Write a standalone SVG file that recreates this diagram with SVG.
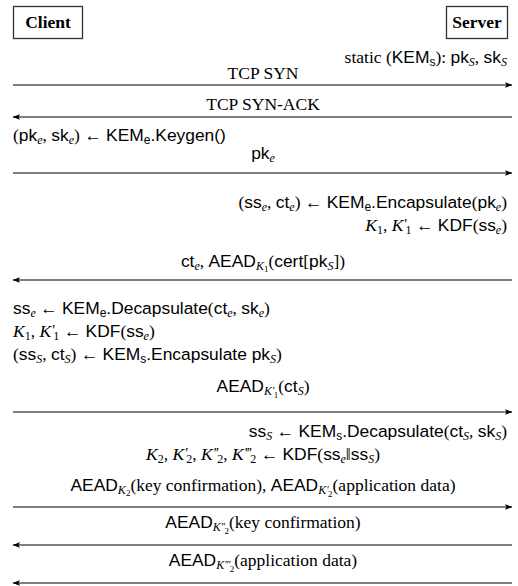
<svg xmlns="http://www.w3.org/2000/svg" width="518" height="586" viewBox="0 0 518 586">
<style>
.r{font-family:"Liberation Serif",serif;font-size:17.5px;fill:#000}
.f{font-family:"Liberation Sans",sans-serif;font-size:17.4px}
.i{font-family:"Liberation Serif",serif;font-style:italic}
.s{font-size:12px}
.t{font-size:9px}
.p{font-family:"Liberation Serif",serif;font-style:italic;font-size:15px;letter-spacing:-1px}
.q{font-family:"Liberation Serif",serif;font-style:italic;font-size:11px;letter-spacing:-0.5px}
.box{fill:#fff;stroke:#333;stroke-width:1.3}
.hd{font-family:"Liberation Serif",serif;font-weight:bold;font-size:17.5px;fill:#000}
.ln{stroke:#000;stroke-width:1.1;fill:none}
</style>
<defs>
<marker id="ah" markerWidth="8" markerHeight="6" refX="7" refY="3" orient="auto" markerUnits="userSpaceOnUse">
<path d="M0,0.3 L7.5,3 L0,5.7 L1.5,3 z" fill="#000"/>
</marker>
</defs>
<rect width="518" height="586" fill="#fff"/>
<g id="client">
<rect class="box" x="13.5" y="6.5" width="69" height="32"/>
<text class="hd" x="48" y="28" text-anchor="middle">Client</text>
</g>
<g id="server">
<rect class="box" x="446.5" y="6.5" width="61" height="32"/>
<text class="hd" x="477" y="28" text-anchor="middle">Server</text>
</g>
<g id="connectors">
<line class="ln" x1="13" y1="85" x2="512" y2="85" marker-end="url(#ah)"/>
<line class="ln" x1="512" y1="117" x2="13" y2="117" marker-end="url(#ah)"/>
<line class="ln" x1="13" y1="173" x2="512" y2="173" marker-end="url(#ah)"/>
<line class="ln" x1="512" y1="280" x2="13" y2="280" marker-end="url(#ah)"/>
<line class="ln" x1="13" y1="412" x2="512" y2="412" marker-end="url(#ah)"/>
<line class="ln" x1="13" y1="507" x2="512" y2="507" marker-end="url(#ah)"/>
<line class="ln" x1="512" y1="545" x2="13" y2="545" marker-end="url(#ah)"/>
<line class="ln" x1="512" y1="583" x2="13" y2="583" marker-end="url(#ah)"/>
</g>
<g id="labels">
<text class="r" x="507" y="63" text-anchor="end">static (<tspan class="f">KEM</tspan><tspan class="f s" dy="3">s</tspan><tspan dy="-3">): </tspan><tspan class="f">pk</tspan><tspan class="i s" dy="3">S</tspan><tspan dy="-3">, </tspan><tspan class="f">sk</tspan><tspan class="i s" dy="3">S</tspan></text>
<text class="r" x="263" y="79" text-anchor="middle">TCP SYN</text>
<text class="r" x="263" y="110" text-anchor="middle">TCP SYN-ACK</text>
<text class="r" x="13" y="141">(<tspan class="f">pk</tspan><tspan class="i s" dy="3">e</tspan><tspan dy="-3">, </tspan><tspan class="f">sk</tspan><tspan class="i s" dy="3">e</tspan><tspan dy="-3">) ← </tspan><tspan class="f">KEM</tspan><tspan class="f s" dy="3">e</tspan><tspan class="f" dy="-3">.Keygen()</tspan></text>
<text class="r" x="263" y="159" text-anchor="middle"><tspan class="f">pk</tspan><tspan class="i s" dy="3">e</tspan></text>
<text class="r" x="507" y="208" text-anchor="end">(<tspan class="f">ss</tspan><tspan class="i s" dy="3">e</tspan><tspan dy="-3">, </tspan><tspan class="f">ct</tspan><tspan class="i s" dy="3">e</tspan><tspan dy="-3">) ← </tspan><tspan class="f">KEM</tspan><tspan class="f s" dy="3">e</tspan><tspan class="f" dy="-3">.Encapsulate</tspan>(<tspan class="f">pk</tspan><tspan class="i s" dy="3">e</tspan><tspan dy="-3">)</tspan></text>
<text class="r" x="507" y="231" text-anchor="end"><tspan class="i">K</tspan><tspan class="s" dy="3">1</tspan><tspan dy="-3">, </tspan><tspan class="i">K</tspan><tspan class="p" dy="-2">'</tspan><tspan class="s" dy="5">1</tspan><tspan dy="-3"> ← </tspan><tspan class="f">KDF</tspan>(<tspan class="f">ss</tspan><tspan class="i s" dy="3">e</tspan><tspan dy="-3">)</tspan></text>
<text class="r" x="263" y="267" text-anchor="middle"><tspan class="f">ct</tspan><tspan class="i s" dy="3">e</tspan><tspan dy="-3">, </tspan><tspan class="f">AEAD</tspan><tspan class="i s" dy="3">K</tspan><tspan class="t" dy="2">1</tspan><tspan dy="-5">(</tspan><tspan class="f">cert</tspan>[<tspan class="f">pk</tspan><tspan class="i s" dy="3">S</tspan><tspan dy="-3">])</tspan></text>
<text class="r" x="13" y="314"><tspan class="f">ss</tspan><tspan class="i s" dy="3">e</tspan><tspan dy="-3"> ← </tspan><tspan class="f">KEM</tspan><tspan class="f s" dy="3">e</tspan><tspan class="f" dy="-3">.Decapsulate</tspan>(<tspan class="f">ct</tspan><tspan class="i s" dy="3">e</tspan><tspan dy="-3">, </tspan><tspan class="f">sk</tspan><tspan class="i s" dy="3">e</tspan><tspan dy="-3">)</tspan></text>
<text class="r" x="13" y="337"><tspan class="i">K</tspan><tspan class="s" dy="3">1</tspan><tspan dy="-3">, </tspan><tspan class="i">K</tspan><tspan class="p" dy="-2">'</tspan><tspan class="s" dy="5">1</tspan><tspan dy="-3"> ← </tspan><tspan class="f">KDF</tspan>(<tspan class="f">ss</tspan><tspan class="i s" dy="3">e</tspan><tspan dy="-3">)</tspan></text>
<text class="r" x="13" y="360">(<tspan class="f">ss</tspan><tspan class="i s" dy="3">S</tspan><tspan dy="-3">, </tspan><tspan class="f">ct</tspan><tspan class="i s" dy="3">S</tspan><tspan dy="-3">) ← </tspan><tspan class="f">KEM</tspan><tspan class="f s" dy="3">s</tspan><tspan class="f" dy="-3">.Encapsulate pk</tspan><tspan class="i s" dy="3">S</tspan><tspan dy="-3">)</tspan></text>
<text class="r" x="263" y="392" text-anchor="middle"><tspan class="f">AEAD</tspan><tspan class="i s" dy="3">K</tspan><tspan class="q" dy="-1">'</tspan><tspan class="t" dy="4">1</tspan><tspan dy="-6">(</tspan><tspan class="f">ct</tspan><tspan class="i s" dy="3">S</tspan><tspan dy="-3">)</tspan></text>
<text class="r" x="507" y="437" text-anchor="end"><tspan class="f">ss</tspan><tspan class="i s" dy="3">S</tspan><tspan dy="-3"> ← </tspan><tspan class="f">KEM</tspan><tspan class="f s" dy="3">s</tspan><tspan class="f" dy="-3">.Decapsulate</tspan>(<tspan class="f">ct</tspan><tspan class="i s" dy="3">S</tspan><tspan dy="-3">, </tspan><tspan class="f">sk</tspan><tspan class="i s" dy="3">S</tspan><tspan dy="-3">)</tspan></text>
<text class="r" x="263" y="460" text-anchor="middle"><tspan class="i">K</tspan><tspan class="s" dy="3">2</tspan><tspan dy="-3">, </tspan><tspan class="i">K</tspan><tspan class="p" dy="-2">'</tspan><tspan class="s" dy="5">2</tspan><tspan dy="-3">, </tspan><tspan class="i">K</tspan><tspan class="p" dy="-2">''</tspan><tspan class="s" dy="5">2</tspan><tspan dy="-3">, </tspan><tspan class="i">K</tspan><tspan class="p" dy="-2">'''</tspan><tspan class="s" dy="5">2</tspan><tspan dy="-3"> ← </tspan><tspan class="f">KDF</tspan>(<tspan class="f">ss</tspan><tspan class="i s" dy="3">e</tspan><tspan dy="-3">‖</tspan><tspan class="f">ss</tspan><tspan class="i s" dy="3">S</tspan><tspan dy="-3">)</tspan></text>
<text class="r" x="263" y="491" text-anchor="middle"><tspan class="f">AEAD</tspan><tspan class="i s" dy="3">K</tspan><tspan class="t" dy="2">2</tspan><tspan dy="-5">(key confirmation), </tspan><tspan class="f">AEAD</tspan><tspan class="i s" dy="3">K</tspan><tspan class="q" dy="-1">'</tspan><tspan class="t" dy="4">2</tspan><tspan dy="-6">(application data)</tspan></text>
<text class="r" x="263" y="528" text-anchor="middle"><tspan class="f">AEAD</tspan><tspan class="i s" dy="3">K</tspan><tspan class="q" dy="-1">''</tspan><tspan class="t" dy="4">2</tspan><tspan dy="-6">(key confirmation)</tspan></text>
<text class="r" x="263" y="566" text-anchor="middle"><tspan class="f">AEAD</tspan><tspan class="i s" dy="3">K</tspan><tspan class="q" dy="-1">'''</tspan><tspan class="t" dy="4">2</tspan><tspan dy="-6">(application data)</tspan></text>
</g>
</svg>
